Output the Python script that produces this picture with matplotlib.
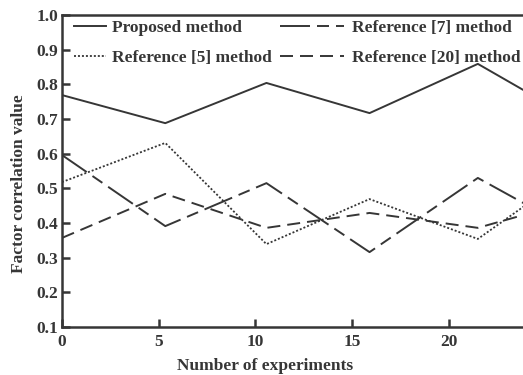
import matplotlib
matplotlib.use("Agg")
import matplotlib.pyplot as plt

# ---- data ----
x_runs = [0, 5.34, 10.57, 15.9, 21.5, 26.9]
proposed = [0.769, 0.688, 0.804, 0.717, 0.859, 0.686]
ref7 = [0.596, 0.391, 0.515, 0.316, 0.530, 0.364]
ref5 = [0.518, 0.631, 0.339, 0.469, 0.354, 0.567]
ref20 = [0.357, 0.484, 0.386, 0.429, 0.386, 0.471]

labels = ["Proposed method", "Reference [7] method",
          "Reference [5] method", "Reference [20] method"]
xticks = [0, 5, 10, 15, 20]
yticks = [0.1, 0.2, 0.3, 0.4, 0.5, 0.6, 0.7, 0.8, 0.9, 1.0]
xlabel = "Number of experiments"
ylabel = "Factor correlation value"

# ---- style ----
plt.rcParams['font.family'] = ['Liberation Serif', 'DejaVu Serif']
plt.rcParams['font.weight'] = 'bold'
FS = 12.5
ink = '#363636'
lw = 1.4  # points
px = 72 / 100.0  # points per pixel


def dashes(*pix):
    # dash pattern given in pixels -> linewidth units
    return (0, tuple(p * px / lw for p in pix))


fig = plt.figure(figsize=(5.23, 3.75), dpi=100)
W, H = 523, 375
ax = fig.add_axes([62 / W, 48 / H, (W - 62) / W, 312 / H])

l_prop, = ax.plot(x_runs, proposed, color=ink, lw=lw, linestyle='-')
l_r7, = ax.plot(x_runs, ref7, color=ink, lw=lw, linestyle=dashes(30, 7, 12, 7))
l_r5, = ax.plot(x_runs, ref5, color=ink, lw=1.3, linestyle=(0, (1.1, 1.1)))
l_r20, = ax.plot(x_runs, ref20, color=ink, lw=lw, linestyle=dashes(13, 7))

ax.set_xlim(0, (W - 63) / 19.3)
ax.set_ylim(0.1, 1.0)
ax.set_xticks(xticks)
ax.set_xticklabels([str(t) for t in xticks])
ax.set_yticks(yticks)
ax.set_yticklabels([f"{t:.1f}" for t in yticks])

for s in ['left', 'bottom', 'top']:
    ax.spines[s].set_linewidth(1.8)
    ax.spines[s].set_color(ink)
ax.spines['right'].set_visible(False)

ax.tick_params(axis='both', direction='in', length=6, width=1.8, color=ink,
               labelsize=FS, labelcolor=ink)
ax.tick_params(axis='y', pad=3)
ax.tick_params(axis='x', pad=5)

ax.set_xlabel(xlabel, fontsize=FS, fontweight='bold', color=ink)
ax.xaxis.set_label_coords(0.44, -0.10)
ax.set_ylabel(ylabel, fontsize=FS, fontweight='bold', color=ink)
ax.yaxis.set_label_coords(-0.076, 0.46)

fs_px = FS / px
common = dict(loc='upper left', bbox_transform=fig.transFigure, frameon=False,
              borderpad=0, borderaxespad=0, labelspacing=0.77,
              prop={'size': FS, 'weight': 'bold'}, labelcolor=ink)
leg1 = ax.legend([l_prop, l_r5], [labels[0], labels[2]],
                 bbox_to_anchor=(74 / W, (H - 20) / H),
                 handlelength=32 / fs_px, handletextpad=6 / fs_px, **common)
ax.add_artist(leg1)
leg2 = ax.legend([l_r7, l_r20], [labels[1], labels[3]],
                 bbox_to_anchor=(280 / W, (H - 20) / H),
                 handlelength=64 / fs_px, handletextpad=8 / fs_px, **common)

fig.savefig("out.png", dpi=100)
